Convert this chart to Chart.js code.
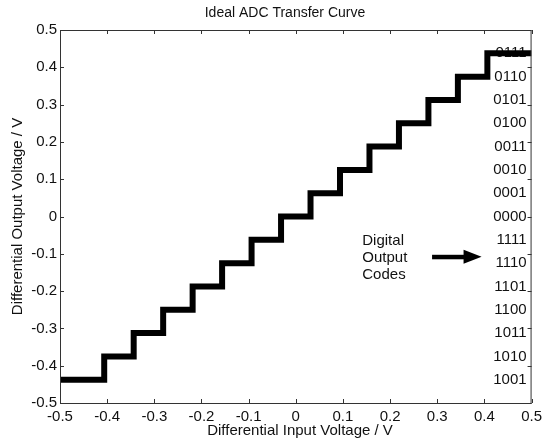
<!DOCTYPE html>
<html>
<head>
<meta charset="utf-8">
<script src="https://cdn.jsdelivr.net/npm/chart.js@4"></script>
<style>
  html, body { margin: 0; padding: 0; background: #fff; }
  #wrap { width: 547px; height: 443px; }
</style>
</head>
<body>
<div id="wrap"><canvas id="adcChart"></canvas></div>
<script>
// ===============================
// Transfer curve data (4-bit, LSB = 1/16 V)
// ===============================
const stepStarts = [-0.5, -0.40625, -0.34375, -0.28125, -0.21875, -0.15625, -0.09375, -0.03125,
                    0.03125, 0.09375, 0.15625, 0.21875, 0.28125, 0.34375, 0.40625, 0.5];
const outputLevels = [-0.4375, -0.375, -0.3125, -0.25, -0.1875, -0.125, -0.0625, 0,
                      0.0625, 0.125, 0.1875, 0.25, 0.3125, 0.375, 0.4375, 0.4375];
const outputCodes = ["1001", "1010", "1011", "1100", "1101", "1110", "1111", "0000",
                     "0001", "0010", "0011", "0100", "0101", "0110", "0111"];
const xTicks = [-0.5, -0.4, -0.3, -0.2, -0.1, 0, 0.1, 0.2, 0.3, 0.4, 0.5];
const yTicks = [-0.5, -0.4, -0.3, -0.2, -0.1, 0, 0.1, 0.2, 0.3, 0.4, 0.5];

const FONT = "'Liberation Sans', Arial, sans-serif";

function fmt(v) {
  return v === 0 ? "0" : v.toFixed(1);
}

// ===============================
// Box, inward ticks, code labels, arrow, titles
// ===============================
const matlabFrame = {
  id: "matlabFrame",
  beforeDatasetsDraw(chart) {
    const { ctx, chartArea: a, scales: { x, y } } = chart;
    ctx.save();
    ctx.fillStyle = "#111";
    ctx.font = "15px " + FONT;
    ctx.textAlign = "right";
    ctx.textBaseline = "middle";
    outputCodes.forEach((code, i) => {
      ctx.fillText(code, a.right - 5, y.getPixelForValue(outputLevels[i]));
    });

    // annotation text
    ctx.textAlign = "left";
    ctx.font = "15px " + FONT;
    const tx = x.getPixelForValue(0.141);
    const ty = y.getPixelForValue(-0.111);
    ["Digital", "Output", "Codes"].forEach((t, i) => ctx.fillText(t, tx, ty + (i - 1) * 17));

    // arrow
    const ax0 = x.getPixelForValue(0.289), ax1 = x.getPixelForValue(0.394);
    const ay = y.getPixelForValue(-0.108);
    ctx.fillStyle = "#000";
    ctx.fillRect(ax0, ay - 2, ax1 - ax0 - 14, 4.5);
    ctx.beginPath();
    ctx.moveTo(ax1, ay);
    ctx.lineTo(ax1 - 18, ay - 7);
    ctx.lineTo(ax1 - 18, ay + 7);
    ctx.closePath();
    ctx.fill();
    ctx.restore();
  },
  afterDraw(chart) {
    const { ctx, chartArea: a, scales: { x, y } } = chart;
    ctx.save();
    ctx.strokeStyle = "#333";
    ctx.lineWidth = 1;
    ctx.strokeRect(a.left + 0.5, a.top + 0.5, a.right - a.left - 1, a.bottom - a.top);
    ctx.beginPath();
    xTicks.forEach(v => {
      const px = Math.round(x.getPixelForValue(v)) + 0.5;
      ctx.moveTo(px, a.bottom); ctx.lineTo(px, a.bottom - 4);
      ctx.moveTo(px, a.top); ctx.lineTo(px, a.top + 4);
    });
    yTicks.forEach(v => {
      const py = Math.round(y.getPixelForValue(v)) + 0.5;
      ctx.moveTo(a.left, py); ctx.lineTo(a.left + 4, py);
      ctx.moveTo(a.right, py); ctx.lineTo(a.right - 4, py);
    });
    ctx.stroke();

    // titles
    ctx.fillStyle = "#111";
    ctx.textAlign = "center";
    ctx.textBaseline = "middle";
    ctx.font = "14px " + FONT;
    ctx.fillText("Ideal ADC Transfer Curve", 285, 13);
    ctx.font = "15px " + FONT;
    ctx.fillText("Differential Input Voltage / V", 300, 431);
    ctx.translate(18, (a.top + a.bottom) / 2);
    ctx.rotate(-Math.PI / 2);
    ctx.fillText("Differential Output Voltage / V", 0, 0);
    ctx.restore();
  }
};

const points = stepStarts.map((sx, i) => ({ x: sx, y: outputLevels[i] }));

new Chart(document.getElementById("adcChart"), {
  type: "scatter",
  data: {
    datasets: [{
      data: points,
      showLine: true,
      stepped: "before",
      borderColor: "#000",
      borderWidth: 6,
      borderCapStyle: "butt",
      borderJoinStyle: "miter",
      pointRadius: 0,
      fill: false
    }]
  },
  options: {
    responsive: true,
    maintainAspectRatio: false,
    animation: false,
    layout: { padding: { top: 30, right: 14, left: 0, bottom: 0 } },
    plugins: {
      legend: { display: false },
      tooltip: { enabled: false }
    },
    scales: {
      x: {
        type: "linear",
        min: -0.5,
        max: 0.5,
        afterBuildTicks: s => { s.ticks = xTicks.map(v => ({ value: v })); },
        afterFit: s => { s.height = 40; },
        grid: { display: false, drawTicks: false },
        border: { display: false },
        ticks: {
          padding: 5,
          color: "#111",
          font: { family: FONT, size: 15 },
          maxRotation: 0,
          autoSkip: false,
          callback: v => fmt(v)
        }
      },
      y: {
        type: "linear",
        min: -0.5,
        max: 0.5,
        afterBuildTicks: s => { s.ticks = yTicks.map(v => ({ value: v })); },
        afterFit: s => { s.width = 60; },
        grid: { display: false, drawTicks: false },
        border: { display: false },
        ticks: {
          padding: 3,
          color: "#111",
          font: { family: FONT, size: 15 },
          autoSkip: false,
          callback: v => fmt(v)
        }
      }
    }
  },
  plugins: [matlabFrame]
});
</script>
</body>
</html>
